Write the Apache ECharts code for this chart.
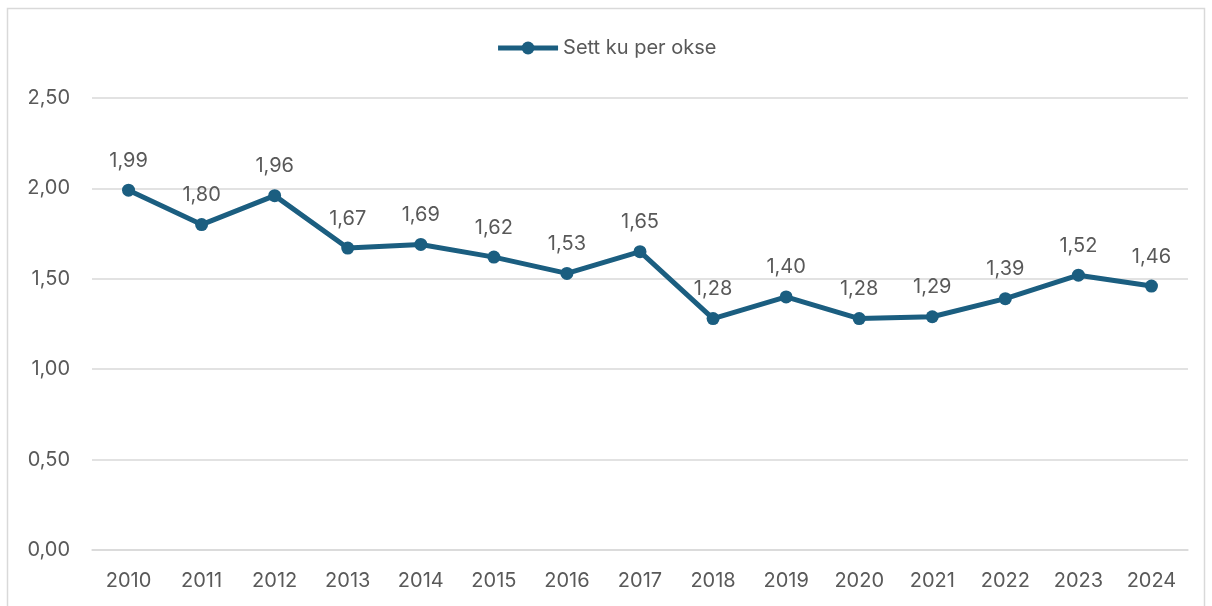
<!DOCTYPE html>
<html>
<head>
<meta charset="utf-8">
<script src="https://cdn.jsdelivr.net/npm/echarts@6/dist/echarts.min.js"></script>
<style>
  html, body { margin: 0; padding: 0; background: #fff; }
  #chart { width: 1212px; height: 606px; }
</style>
</head>
<body>
<div id="chart"></div>
<script>
// år og verdier
const years = ['2010', '2011', '2012', '2013', '2014', '2015', '2016', '2017', '2018', '2019', '2020', '2021', '2022', '2023', '2024']
const settKuPerOkse = [1.99, 1.80, 1.96, 1.67, 1.69, 1.62, 1.53, 1.65, 1.28, 1.40, 1.28, 1.29, 1.39, 1.52, 1.46]
const seriesName = 'Sett ku per okse'

const lineColor = '#1b5e80'
const textColor = '#595959'
const fontFamily = 'Inter, "Open Sans", sans-serif'
const fontSize = 20

const fmt = v => v.toFixed(2).replace('.', ',')

const chart = echarts.init(document.getElementById('chart'))

chart.setOption({
  animation: false,
  backgroundColor: '#fff',
  textStyle: { fontFamily },
  graphic: [{
    type: 'rect',
    silent: true,
    shape: { x: 7.5, y: 8.5, width: 1197, height: 620 },
    style: { fill: 'none', stroke: '#d9d9d9', lineWidth: 1.5 }
  }],
  legend: {
    data: [seriesName],
    top: 33,
    left: 'center',
    itemWidth: 60,
    itemHeight: 16,
    itemGap: 4,
    lineStyle: { width: 5, color: lineColor },
    itemStyle: { color: lineColor },
    textStyle: { color: textColor, fontSize, fontFamily }
  },
  grid: {
    left: 92,
    right: 24,
    top: 98,
    bottom: 56,
    containLabel: false
  },
  xAxis: {
    type: 'category',
    data: years,
    boundaryGap: true,
    axisLine: { show: true, lineStyle: { color: '#d9d9d9', width: 1.5 } },
    axisTick: { show: false },
    axisLabel: { color: textColor, fontSize, margin: 21, fontFamily }
  },
  yAxis: {
    type: 'value',
    min: 0,
    max: 2.5,
    interval: 0.5,
    axisLine: { show: false },
    axisTick: { show: false },
    splitLine: { lineStyle: { color: '#d9d9d9', width: 1.5 } },
    axisLabel: { color: textColor, fontSize, margin: 22, formatter: fmt, fontFamily }
  },
  series: [{
    name: seriesName,
    type: 'line',
    data: settKuPerOkse,
    symbol: 'circle',
    symbolSize: 13,
    lineStyle: { color: lineColor, width: 5 },
    itemStyle: { color: lineColor },
    label: {
      show: true,
      position: 'top',
      distance: 13,
      color: textColor,
      fontSize,
      fontFamily,
      formatter: p => fmt(p.value)
    }
  }]
})
</script>
</body>
</html>
